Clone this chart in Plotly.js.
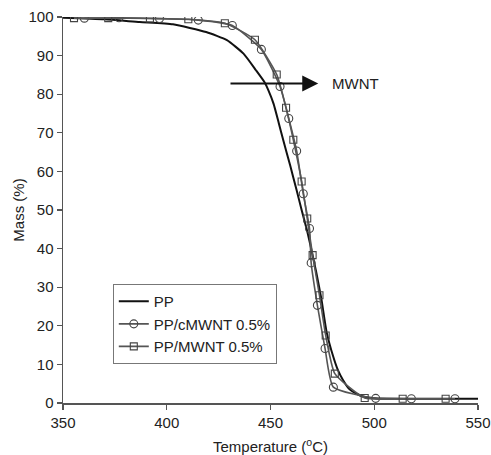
<!DOCTYPE html>
<html>
<head>
<meta charset="utf-8">
<script src="https://cdn.plot.ly/plotly-2.35.2.min.js"></script>
<style>html,body{margin:0;padding:0;background:#fff;}#chart{width:491px;height:455px;}</style>
</head>
<body>
<div id="chart"></div>
<script>
// Temperature (°C) / Mass (%) data
const ppTemp = [350, 370, 387, 403, 419, 429, 437, 443, 447, 449, 451.5, 454, 456.2, 459.5, 462.6, 465, 467.7, 470, 472, 474.5, 477, 480.3, 482.5, 485, 488, 491.5, 495, 500, 520, 550];
const ppMass = [99.8, 99.4, 98.7, 98.1, 96.1, 94.0, 90.5, 86.2, 83.2, 81.0, 77.5, 72.5, 68.0, 61.5, 55.1, 50.0, 44.5, 39.0, 34.0, 27.0, 18.5, 11.9, 8.5, 5.9, 3.6, 2.4, 1.6, 1.2, 1.1, 1.1];

const cTemp = [360.3, 377, 396.5, 415.2, 431.6, 445.6, 454.6, 458.8, 462.6, 465.8, 468.8, 469.6, 472.6, 476.3, 480.3, 500.7, 517.9, 538.9];
const cMass = [99.7, 99.8, 99.6, 99.2, 97.8, 91.6, 82.0, 73.7, 65.3, 54.2, 45.2, 36.3, 25.3, 14.1, 4.1, 1.2, 1.1, 1.1];

const mTemp = [355.3, 371.8, 391.9, 410.4, 428, 442.5, 453, 457.5, 461, 465, 467.7, 470.3, 473.6, 476.6, 481, 495.4, 513.7, 534.4];
const mMass = [99.7, 99.7, 99.6, 99.4, 98.4, 94.1, 85.1, 76.5, 68.2, 57.4, 47.8, 38.3, 27.9, 17.5, 7.6, 1.3, 1.1, 1.1];

const seriesNames = ['PP', 'PP/cMWNT 0.5%', 'PP/MWNT 0.5%'];
const xTicks = [350, 400, 450, 500, 550];
const yTicks = [0, 10, 20, 30, 40, 50, 60, 70, 80, 90, 100];
const arrowFrom = 430, arrowTo = 473, arrowLevel = 82.8, arrowLabel = 'MWNT';

const FONT = 'Liberation Sans, Arial, sans-serif';

const traces = [
  {
    x: ppTemp, y: ppMass, name: seriesNames[0], mode: 'lines',
    line: {color: '#111', width: 2, shape: 'spline', smoothing: 0.5}
  },
  {
    x: cTemp, y: cMass, name: seriesNames[1], mode: 'lines+markers',
    line: {color: '#555', width: 1.6, shape: 'spline', smoothing: 0.5},
    marker: {symbol: 'circle-open', size: 8, color: '#444', line: {width: 1.1, color: '#444'}}
  },
  {
    x: mTemp, y: mMass, name: seriesNames[2], mode: 'lines+markers',
    line: {color: '#555', width: 1.6, shape: 'spline', smoothing: 0.5},
    marker: {symbol: 'square-open', size: 7, color: '#444', line: {width: 1.1, color: '#444'}}
  }
];

const layout = {
  width: 491, height: 455,
  margin: {l: 63, r: 13, t: 17, b: 52},
  paper_bgcolor: '#fff', plot_bgcolor: '#fff',
  font: {family: FONT, size: 15, color: '#222'},
  showlegend: true,
  legend: {
    x: 0.12, y: 0.308, xanchor: 'left', yanchor: 'top',
    bordercolor: '#777', borderwidth: 1, bgcolor: '#fff',
    font: {family: FONT, size: 15, color: '#222'},
    tracegroupgap: 0, itemwidth: 30
  },
  xaxis: {
    range: [350, 550], tickvals: xTicks, ticktext: xTicks.map(String),
    showgrid: false, zeroline: false, showline: true, linecolor: '#555', linewidth: 1.5,
    ticks: 'outside', ticklen: 5, tickcolor: '#555', tickwidth: 1.2,
    tickfont: {family: FONT, size: 15, color: '#222'},
    title: {text: 'Temperature (<sup>o</sup>C)', font: {family: FONT, size: 15, color: '#222'}, standoff: 18},
    automargin: false
  },
  yaxis: {
    range: [0, 100], tickvals: yTicks, ticktext: yTicks.map(String),
    showgrid: false, zeroline: false, showline: true, linecolor: '#555', linewidth: 1.5,
    ticks: 'outside', ticklen: 5, tickcolor: '#555', tickwidth: 1.2,
    tickfont: {family: FONT, size: 15, color: '#222'},
    title: {text: 'Mass (%)', font: {family: FONT, size: 15, color: '#222'}, standoff: 0},
    automargin: false
  },
  annotations: [
    {
      x: arrowTo, y: arrowLevel, ax: arrowFrom, ay: arrowLevel,
      xref: 'x', yref: 'y', axref: 'x', ayref: 'y',
      text: '', showarrow: true, arrowhead: 2, arrowsize: 1.6, arrowwidth: 2, arrowcolor: '#111'
    },
    {
      x: arrowTo + 5.5, y: arrowLevel, xref: 'x', yref: 'y',
      text: arrowLabel, showarrow: false, xanchor: 'left', yanchor: 'middle',
      font: {family: FONT, size: 15, color: '#222'}
    }
  ]
};

Plotly.newPlot('chart', traces, layout, {displayModeBar: false, staticPlot: true});
</script>
</body>
</html>
